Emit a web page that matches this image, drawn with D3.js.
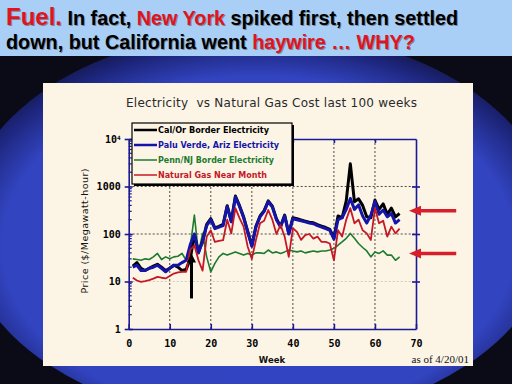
<!DOCTYPE html>
<html>
<head>
<meta charset="utf-8">
<script src="https://cdn.jsdelivr.net/npm/d3@7"></script>
<style>
  body { margin: 0; background: #0b0b18; }
  svg { display: block; }
</style>
</head>
<body>
<div id="chart"></div>
<script>
// weekly prices, $/MWh (weeks 1..66)
var weeks = d3.range(1, 67);

var calOr = [21, 25, 19, 17, 19, 21, 23, 20, 17, 19, 22, 20, 17, 18, 30, 95, 42, 70, 160, 210,
  135, 145, 160, 395, 185, 630, 395, 230, 113, 57, 145, 240, 310, 500, 385, 210, 145, 250, 103, 220,
  210, 197, 187, 177, 172, 157, 147, 137, 125, 83, 240, 220, 500, 3000, 480, 550, 400, 230, 220, 520,
  330, 430, 260, 350, 230, 270];

var paloVerde = [20, 22, 17, 17, 19, 20, 22, 19, 16, 19, 22, 22, 25, 28, 60, 100, 40, 70, 150, 200,
  130, 140, 150, 380, 180, 600, 380, 220, 110, 55, 140, 230, 300, 480, 370, 200, 140, 240, 100, 210,
  200, 190, 180, 170, 165, 150, 140, 130, 120, 78, 200, 220, 330, 560, 330, 410, 240, 170, 250, 480,
  260, 320, 230, 270, 170, 200];

var pennNJ = [30, 29, 28, 30, 29, 33, 39, 29, 33, 30, 33, 34, 39, 28, 54, 250, 39, 103, 33, 16,
  24, 33, 39, 36, 39, 42, 39, 36, 39, 36, 40, 40, 39, 46, 40, 42, 39, 42, 46, 44,
  42, 44, 40, 42, 44, 42, 44, 44, 46, 50, 58, 68, 81, 103, 81, 63, 52, 44, 33, 42,
  39, 44, 36, 36, 28, 33];

var natGas = [12, 10.5, 9.8, 10.2, 10.7, 11.5, 12.5, 12, 11.6, 13, 14.7, 15.5, 16, 16, 46, 58, 28, 17, 88, 120,
  68, 72, 74, 200, 103, 350, 215, 143, 54, 30, 75, 168, 190, 320, 200, 100, 155, 88, 33, 132,
  111, 75, 95, 100, 80, 88, 68, 68, 63, 28, 120, 88, 200, 350, 168, 200, 120, 103, 75, 350,
  168, 190, 88, 143, 103, 130];

var seriesNames = ["Cal/Or Border Electricity", "Palu Verde, Ariz Electricity",
  "Penn/NJ Border Electricity", "Natural Gas Near Month"];
var seriesColors = ["#000000", "#1414a8", "#1d7a2e", "#c41826"];
var seriesWidths = [3, 3, 1.6, 1.8];
var seriesValues = [calOr, paloVerde, pennNJ, natGas];

var xTicks = [0, 10, 20, 30, 40, 50, 60, 70];
var yTicks = [1, 10, 100, 1000, 10000];

// annotation arrows: [week, from value, to value] and [value] on right side
var blackArrow = [15.3, 4.4, 39];
var redArrows = [310, 39];

var W = 512, H = 384;
var svg = d3.select("#chart").append("svg")
  .attr("width", W).attr("height", H);

var defs = svg.append("defs");
var glow = defs.append("radialGradient")
  .attr("id", "glow")
  .attr("cx", 0.5).attr("cy", 0.55).attr("r", 0.6);
glow.append("stop").attr("offset", "0%").attr("stop-color", "#3042c0");
glow.append("stop").attr("offset", "72%").attr("stop-color", "#3244c0");
glow.append("stop").attr("offset", "86%").attr("stop-color", "#1c2478");
glow.append("stop").attr("offset", "100%").attr("stop-color", "#0b0b18");

svg.append("rect").attr("width", W).attr("height", H).attr("fill", "#0b0b18");
svg.append("ellipse")
  .attr("cx", 258).attr("cy", 226).attr("rx", 296).attr("ry", 196)
  .attr("fill", "url(#glow)");

// header band
svg.append("rect").attr("x", 0).attr("y", 0).attr("width", W).attr("height", 56)
  .attr("fill", "#a9cff7");

var headLines = [
  [["Fuel.", "#e0141e", 24], [" In fact, ", "#000", 19.8], ["New York", "#e0141e", 19.8], [" spiked first, then settled", "#000", 19.8]],
  [["down, but California went ", "#000", 19.8], ["haywire … WHY?", "#e0141e", 19.8]]
];
var headY = [25, 49];

[1, 0].forEach(function(pass) {
  headLines.forEach(function(line, li) {
    var t = svg.append("text")
      .attr("x", 6 + pass).attr("y", headY[li] + pass)
      .style("font-family", "'Liberation Sans', Arial, sans-serif")
      .style("font-weight", "bold");
    line.forEach(function(seg) {
      t.append("tspan")
        .text(seg[0])
        .style("font-size", seg[2] + "px")
        .attr("fill", pass ? "#555" : seg[1])
        .attr("fill-opacity", pass ? 0.6 : 1);
    });
  });
});

// chart panel
svg.append("rect")
  .attr("x", 43).attr("y", 83).attr("width", 430).attr("height", 283)
  .attr("fill", "#fcf5e6");

svg.append("text")
  .attr("x", 271.5).attr("y", 107)
  .attr("text-anchor", "middle")
  .attr("textLength", 291)
  .style("white-space", "pre")
  .style("font-family", "'DejaVu Sans', sans-serif")
  .style("font-size", "12px")
  .attr("fill", "#2a2a2a")
  .text("Electricity  vs Natural Gas Cost last 100 weeks");

var x = d3.scaleLinear().domain([0, 70]).range([128.7, 416]);
var y = d3.scaleLog().domain([1, 10000]).range([329, 139]);

var axisColor = "#1a1a96";
var g = svg.append("g");

// grid
g.selectAll(".vgrid")
  .data(xTicks.slice(1, 7))
  .enter().append("line")
  .attr("x1", function(d) { return x(d); })
  .attr("x2", function(d) { return x(d); })
  .attr("y1", y(10000)).attr("y2", y(1))
  .attr("stroke", "#222").attr("stroke-width", 0.8)
  .attr("stroke-dasharray", "2,2");

g.selectAll(".hgrid")
  .data([10, 100, 1000])
  .enter().append("line")
  .attr("x1", x(0)).attr("x2", x(70))
  .attr("y1", function(d) { return y(d); })
  .attr("y2", function(d) { return y(d); })
  .attr("stroke", function(d) { return d === 10 ? "#c8c0b4" : "#222"; })
  .attr("stroke-width", 0.8)
  .attr("stroke-dasharray", "2,2");

// series lines
var line = d3.line()
  .x(function(d) { return x(d[0]); })
  .y(function(d) { return y(d[1]); });

[2, 0, 1, 3].forEach(function(i) {
  g.append("path")
    .datum(weeks.map(function(w, j) { return [w, seriesValues[i][j]]; }))
    .attr("d", line)
    .attr("fill", "none")
    .attr("stroke", seriesColors[i])
    .attr("stroke-width", seriesWidths[i])
    .attr("stroke-linejoin", "round");
});

// axes
function styleAxis(sel) {
  sel.select(".domain").attr("stroke", axisColor).attr("stroke-width", 1.6);
  sel.selectAll(".tick line").attr("stroke", axisColor).attr("stroke-width", 1.6);
  sel.selectAll(".tick text")
    .attr("fill", "#000")
    .style("font-family", "'DejaVu Sans Mono', monospace")
    .style("font-weight", "bold")
    .style("font-size", "10px");
}

var xAxis = d3.axisBottom(x).tickValues(xTicks).tickSizeInner(-5).tickSizeOuter(0).tickPadding(11);
g.append("g").attr("transform", "translate(0," + y(1) + ")").call(xAxis).call(styleAxis);

var xTop = d3.axisTop(x).tickValues(xTicks.slice(1, 7)).tickSizeInner(-4).tickSizeOuter(0).tickFormat("");
g.append("g").attr("transform", "translate(0," + y(10000) + ")").call(xTop).call(styleAxis);

var yAxis = d3.axisLeft(y).tickValues(yTicks).tickSizeInner(4).tickSizeOuter(0).tickPadding(4)
  .tickFormat(function(d) { return d === 10000 ? "" : d; });
var yg = g.append("g").attr("transform", "translate(" + x(0) + ",0)").call(yAxis).call(styleAxis);
yg.selectAll(".tick").filter(function(d) { return d === 10000; }).select("text")
  .each(function() {
    var t = d3.select(this);
    t.append("tspan").text("10");
    t.append("tspan").text("4").attr("dy", "-0.4em").style("font-size", "6px");
  });

var yRight = d3.axisRight(y).tickValues(yTicks.slice(1, 4)).tickSizeInner(4).tickSizeOuter(0).tickFormat("");
var yr = g.append("g").attr("transform", "translate(" + x(70) + ",0)").call(yRight).call(styleAxis);
yr.selectAll(".tick line").attr("x1", -4);
yg.selectAll(".tick line").attr("x2", 4).attr("x1", -4);

// minor log ticks on the left axis
var minor = [];
[1, 10, 100, 1000].forEach(function(dec) {
  d3.range(2, 10).forEach(function(k) { minor.push(dec * k); });
});
g.selectAll(".minor")
  .data(minor)
  .enter().append("line")
  .attr("x1", x(0)).attr("x2", x(0) + 3)
  .attr("y1", function(d) { return y(d); })
  .attr("y2", function(d) { return y(d); })
  .attr("stroke", axisColor).attr("stroke-width", 1.2);

// axis titles
svg.append("text")
  .attr("transform", "translate(88," + 231 + ") rotate(-90)")
  .attr("text-anchor", "middle")
  .attr("textLength", 125)
  .style("font-family", "'DejaVu Sans', sans-serif")
  .style("font-size", "9.5px")
  .attr("fill", "#111")
  .text("Price ($/Megawatt-hour)");

svg.append("text")
  .attr("x", 272).attr("y", 363)
  .attr("text-anchor", "middle")
  .style("font-family", "'DejaVu Sans', sans-serif")
  .style("font-weight", "bold")
  .style("font-size", "8.5px")
  .attr("fill", "#111")
  .text("Week");

svg.append("text")
  .attr("x", 469).attr("y", 363)
  .attr("text-anchor", "end")
  .style("font-family", "'Liberation Serif', serif")
  .style("font-size", "11px")
  .attr("fill", "#111")
  .text("as of 4/20/01");

// legend
var lg = svg.append("g");
lg.append("rect").attr("x", 134).attr("y", 125).attr("width", 160).attr("height", 61).attr("fill", "#000");
lg.append("rect").attr("x", 132).attr("y", 123).attr("width", 160).attr("height", 61)
  .attr("fill", "#fcf5e6").attr("stroke", "#000").attr("stroke-width", 1.2);

seriesNames.forEach(function(name, i) {
  var ly = 130 + i * 15;
  lg.append("line")
    .attr("x1", 134).attr("x2", 157).attr("y1", ly).attr("y2", ly)
    .attr("stroke", seriesColors[i]).attr("stroke-width", i < 2 ? 2.5 : 1.5);
  lg.append("text")
    .attr("x", 158).attr("y", ly + 3)
    .attr("textLength", [111, 121, 116, 109][i])
    .attr("lengthAdjust", "spacingAndGlyphs")
    .style("font-family", "'DejaVu Sans', sans-serif")
    .style("font-weight", "bold")
    .style("font-size", "8px")
    .attr("fill", seriesColors[i])
    .text(name);
});

// black arrow pointing at the New York spike
var bx = x(blackArrow[0]), by0 = y(blackArrow[1]), by1 = y(blackArrow[2]);
svg.append("line")
  .attr("x1", bx).attr("x2", bx).attr("y1", by0).attr("y2", by1 + 6)
  .attr("stroke", "#000").attr("stroke-width", 3);
svg.append("path")
  .attr("d", "M" + bx + "," + by1 + "L" + (bx - 4.5) + "," + (by1 + 9) + "L" + (bx + 4.5) + "," + (by1 + 9) + "Z")
  .attr("fill", "#000");

// red arrows on the right
redArrows.forEach(function(v) {
  var ay = y(v);
  var tip = x(68.3), tail = x(79.8);
  svg.append("line")
    .attr("x1", tip + 10).attr("x2", tail).attr("y1", ay).attr("y2", ay)
    .attr("stroke", "#d81e28").attr("stroke-width", 3.5);
  svg.append("path")
    .attr("d", "M" + tip + "," + ay + "L" + (tip + 12) + "," + (ay - 5) + "L" + (tip + 12) + "," + (ay + 5) + "Z")
    .attr("fill", "#d81e28");
});
</script>
</body>
</html>
